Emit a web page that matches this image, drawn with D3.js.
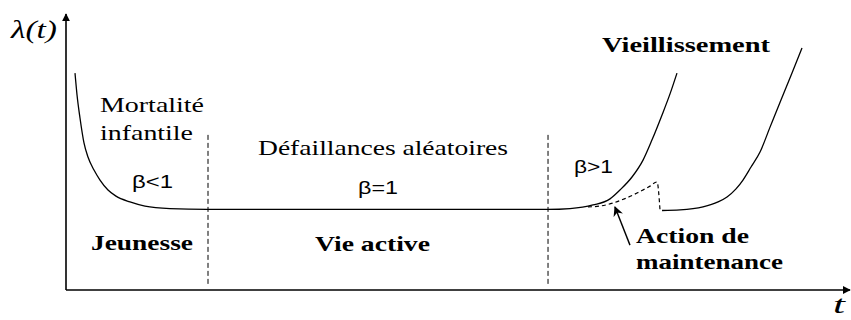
<!DOCTYPE html>
<html>
<head>
<meta charset="utf-8">
<script src="https://cdn.jsdelivr.net/npm/d3@7/dist/d3.min.js"></script>
<style>
  html, body { margin: 0; padding: 0; background: #fff; }
  svg { display: block; }
  .serif { font-family: "Liberation Serif", "Times New Roman", serif; }
  .sans { font-family: "Liberation Sans", Arial, sans-serif; }
</style>
</head>
<body>
<svg id="chart" width="851" height="320"></svg>
<script>
// ---------- data (t in arbitrary time units 0..100, lambda in arbitrary units 0..10) ----------
const bathtubT      = [1.15, 1.41, 1.79, 2.30, 2.81, 3.58, 4.35, 5.37, 6.39, 8.18, 10.10, 13.30, 18.03, 61.64, 64.45, 67.39, 69.57, 70.84, 72.38, 73.79, 74.94, 76.22, 77.24, 78.13];
const bathtubLambda = [7.83, 7.04, 6.21, 5.31, 4.80, 4.33, 3.97, 3.61, 3.39, 3.18, 3.03, 2.94, 2.91, 2.91, 2.94, 3.07, 3.29, 3.61, 4.08, 4.69, 5.42, 6.32, 7.08, 7.83];

const maintT        = [66.75, 68.29, 69.95, 71.48, 73.02, 74.68, 75.58, 75.96];
const maintLambda   = [3.00, 3.03, 3.14, 3.30, 3.50, 3.75, 3.90, 2.89];

const renewT        = [76.22, 78.52, 81.46, 83.38, 84.53, 85.68, 86.57, 87.60, 88.75, 90.03, 91.43, 92.84, 94.12];
const renewLambda   = [2.87, 2.89, 3.00, 3.18, 3.36, 3.65, 3.97, 4.44, 4.98, 5.88, 6.86, 7.83, 8.74];

const phaseBoundaries = [18.16, 61.64];
const phaseNames      = ["Jeunesse", "Vie active", "Vieillissement"];
const regimeNames     = [["Mortalité", "infantile"], ["Défaillances aléatoires"], []];
const betaLabels      = ["β<1", "β=1", "β>1"];
const maintenanceLabel = ["Action de", "maintenance"];
const axisLabels      = { y: "λ(t)", x: "t" };

// ---------- scales ----------
const svg = d3.select("#chart");
const x = d3.scaleLinear().domain([0, 100]).range([66, 848]);
const y = d3.scaleLinear().domain([0, 10]).range([290, 13]);

const toPts = (ts, ls) => ts.map((t, i) => [t, ls[i]]);
const line = d3.line().x(d => x(d[0])).y(d => y(d[1])).curve(d3.curveMonotoneX);

// arrow markers
const defs = svg.append("defs");
defs.append("marker").attr("id", "axisArrow")
  .attr("viewBox", "0 0 10 10").attr("refX", 9).attr("refY", 5)
  .attr("markerWidth", 5).attr("markerHeight", 5).attr("markerUnits", "strokeWidth")
  .attr("orient", "auto")
  .append("path").attr("d", "M0,0 L10,5 L0,10 Z").attr("fill", "#000");
defs.append("marker").attr("id", "noteArrow")
  .attr("viewBox", "0 0 10 10").attr("refX", 9).attr("refY", 5)
  .attr("markerWidth", 10).attr("markerHeight", 10).attr("markerUnits", "userSpaceOnUse")
  .attr("orient", "auto")
  .append("path").attr("d", "M0,0 L10,5 L0,10 L3,5 Z").attr("fill", "#000");

// axes
const yAxisT = x.domain()[0];
svg.append("line")
  .attr("x1", x(yAxisT)).attr("y1", y(0)).attr("x2", x(yAxisT)).attr("y2", y(10) + 1)
  .attr("stroke", "#000").attr("stroke-width", 1.6).attr("marker-end", "url(#axisArrow)");
svg.append("line")
  .attr("x1", x(0)).attr("y1", y(0)).attr("x2", x(100) + 2).attr("y2", y(0))
  .attr("stroke", "#000").attr("stroke-width", 1.6).attr("marker-end", "url(#axisArrow)");

// phase boundaries
svg.selectAll(".boundary").data(phaseBoundaries).enter().append("line")
  .attr("class", "boundary")
  .attr("x1", d => x(d)).attr("x2", d => x(d))
  .attr("y1", y(5.6)).attr("y2", y(0.2))
  .attr("stroke", "#000").attr("stroke-width", 1).attr("stroke-dasharray", "5,3");

// curves
svg.append("path").attr("d", line(toPts(bathtubT, bathtubLambda)))
  .attr("fill", "none").attr("stroke", "#000").attr("stroke-width", 1.3);
svg.append("path").attr("d", line(toPts(maintT, maintLambda)))
  .attr("fill", "none").attr("stroke", "#000").attr("stroke-width", 1.2).attr("stroke-dasharray", "4,3");
svg.append("path").attr("d", line(toPts(renewT, renewLambda)))
  .attr("fill", "none").attr("stroke", "#000").attr("stroke-width", 1.3);

// maintenance arrow
svg.append("line")
  .attr("x1", x(72.12)).attr("y1", y(1.62)).attr("x2", x(70.2)).attr("y2", y(3.0))
  .attr("stroke", "#000").attr("stroke-width", 1.4).attr("marker-end", "url(#noteArrow)");

// ---------- text ----------
function label(txt, px, py, width, size, opts = {}) {
  const t = svg.append("text")
    .attr("x", px).attr("y", py)
    .attr("class", opts.sans ? "sans" : "serif")
    .attr("font-size", size)
    .attr("font-weight", opts.bold ? "bold" : "normal")
    .attr("font-style", opts.italic ? "italic" : "normal")
    .attr("fill", "#000")
    .text(txt);
  if (width) t.attr("textLength", width).attr("lengthAdjust", "spacingAndGlyphs");
  return t;
}

label(axisLabels.y, 11, 38, 46, 25, { italic: true });
label(axisLabels.x, 833, 313, 12, 26, { italic: true });

label(regimeNames[0][0], 100, 112, 104, 21);
label(regimeNames[0][1], 100, 140, 93, 21);
label(regimeNames[1][0], 258, 155, 250, 22);

label(betaLabels[0], 132, 188, 41, 18, { sans: true });
label(betaLabels[1], 358, 194, 40, 18, { sans: true });
label(betaLabels[2], 574, 173, 39, 18, { sans: true });

label(phaseNames[0], 91, 250, 102, 22, { bold: true });
label(phaseNames[1], 315, 251, 115, 22, { bold: true });
label(phaseNames[2], 602, 52, 168, 22, { bold: true });

label(maintenanceLabel[0], 636, 243, 113, 22, { bold: true });
label(maintenanceLabel[1], 636, 269, 147, 22, { bold: true });
</script>
</body>
</html>
